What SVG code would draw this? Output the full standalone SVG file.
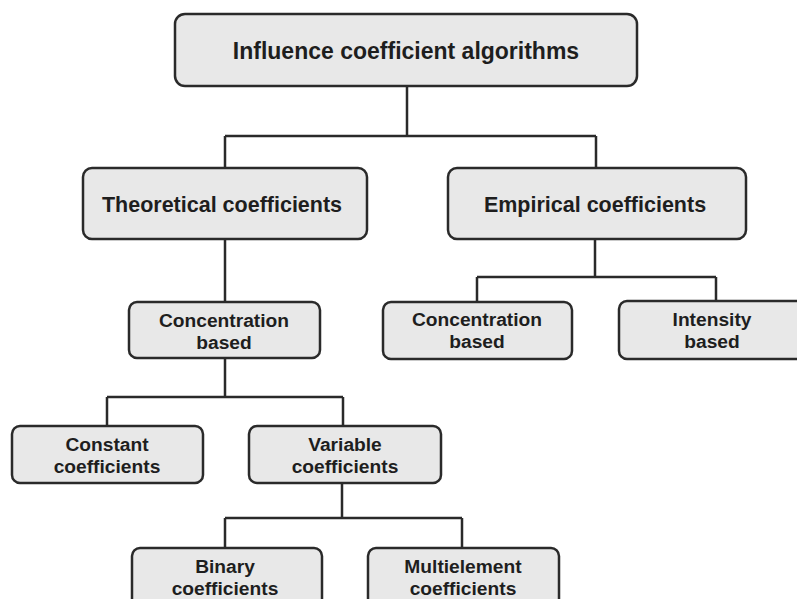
<svg xmlns="http://www.w3.org/2000/svg" width="797" height="599" viewBox="0 0 797 599">
<style>
.box{fill:#e8e8e8;stroke:#2a2a2a;stroke-width:2.5}
.t{font-family:"Liberation Sans",Arial,sans-serif;font-weight:bold;fill:#1e1e1e;text-anchor:middle}
.big{font-size:23px}
.mid{font-size:21.5px}
.sm{font-size:19.2px}
.c{fill:none;stroke:#2a2a2a;stroke-width:2.5}
</style>
<rect width="797" height="599" fill="#ffffff"/>
<g id="connectors">
<path class="c" d="M407 86V136M225 136H596M225 136V168M596 136V168"/>
<path class="c" d="M225 239V302"/>
<path class="c" d="M595 239V277M477 277H716M477 277V302M716 277V301"/>
<path class="c" d="M225 358V397M107 397H343M107 397V426M343 397V426"/>
<path class="c" d="M342 483V518M225 518H462M225 518V548M462 518V548"/>
</g>
<g id="root">
<rect class="box" x="175" y="14" width="462" height="72" rx="10"/>
<text class="t big" x="406" y="59">Influence coefficient algorithms</text>
</g>
<g id="theoretical">
<rect class="box" x="83" y="168" width="284" height="71" rx="9"/>
<text class="t mid" x="222" y="212">Theoretical coefficients</text>
</g>
<g id="empirical">
<rect class="box" x="448" y="168" width="298" height="71" rx="9"/>
<text class="t mid" x="595" y="212">Empirical coefficients</text>
</g>
<g id="conc-left">
<rect class="box" x="129" y="302" width="191" height="56" rx="8"/>
<text class="t sm" x="224" y="327">Concentration</text>
<text class="t sm" x="224" y="349">based</text>
</g>
<g id="conc-right">
<rect class="box" x="383" y="302" width="189" height="57" rx="8"/>
<text class="t sm" x="477" y="326">Concentration</text>
<text class="t sm" x="477" y="348">based</text>
</g>
<g id="intensity">
<rect class="box" x="619" y="301" width="190" height="58" rx="8"/>
<text class="t sm" x="712" y="326">Intensity</text>
<text class="t sm" x="712" y="348">based</text>
</g>
<g id="constant">
<rect class="box" x="12" y="426" width="191" height="57" rx="8"/>
<text class="t sm" x="107" y="451">Constant</text>
<text class="t sm" x="107" y="473">coefficients</text>
</g>
<g id="variable">
<rect class="box" x="249" y="426" width="192" height="57" rx="8"/>
<text class="t sm" x="345" y="451">Variable</text>
<text class="t sm" x="345" y="473">coefficients</text>
</g>
<g id="binary">
<rect class="box" x="132" y="548" width="190" height="70" rx="8"/>
<text class="t sm" x="225" y="573">Binary</text>
<text class="t sm" x="225" y="595">coefficients</text>
</g>
<g id="multielement">
<rect class="box" x="368" y="548" width="191" height="70" rx="8"/>
<text class="t sm" x="463" y="573">Multielement</text>
<text class="t sm" x="463" y="595">coefficients</text>
</g>
</svg>
